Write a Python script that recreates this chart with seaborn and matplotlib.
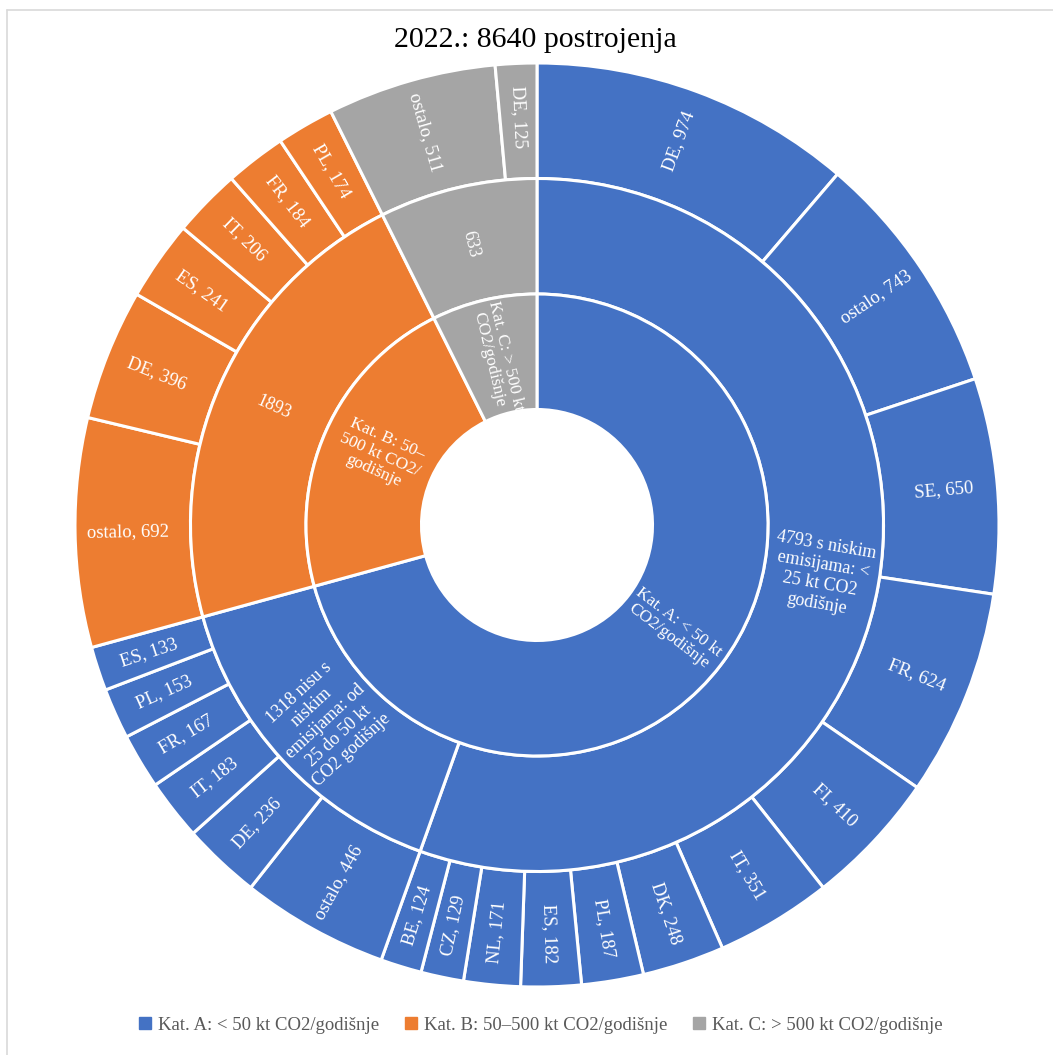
import numpy as np
import pandas as pd
import matplotlib
matplotlib.use("Agg")
import matplotlib.pyplot as plt
import seaborn as sns
from matplotlib.lines import Line2D

# ---------------- data ----------------
title = "2022.: 8640 postrojenja"
categories = ["Kat. A: < 50 kt CO2/godišnje",
              "Kat. B: 50–500 kt CO2/godišnje",
              "Kat. C: > 500 kt CO2/godišnje"]
inner_labels = ["Kat. A: < 50 kt\nCO2/godišnje",
                "Kat. B: 50–\n500 kt CO2/\ngodišnje",
                "Kat. C: > 500 kt\nCO2/godišnje"]
middle_labels = ["4793 s niskim\nemisijama: <\n25 kt CO2\ngodišnje",
                 "1318 nisu s\nniskim\nemisijama: od\n25 do 50 kt\nCO2 godišnje",
                 "1893",
                 "633"]
middle_category = [0, 0, 1, 2]

a_low_countries = ["DE", "ostalo", "SE", "FR", "FI", "IT", "DK", "PL", "ES", "NL", "CZ", "BE"]
a_low_values = [974, 743, 650, 624, 410, 351, 248, 187, 182, 171, 129, 124]
a_high_countries = ["ostalo", "DE", "IT", "FR", "PL", "ES"]
a_high_values = [446, 236, 183, 167, 153, 133]
b_countries = ["ostalo", "DE", "ES", "IT", "FR", "PL"]
b_values = [692, 396, 241, 206, 184, 174]
c_countries = ["ostalo", "DE"]
c_values = [511, 125]

# ---------------- style ----------------
sns.set_theme(style="white")
plt.rcParams['font.family'] = ['Liberation Serif', 'DejaVu Serif']
palette = sns.color_palette(["#4472C4", "#ED7D31", "#A5A5A5"])

groups = [(a_low_countries, a_low_values),
          (a_high_countries, a_high_values),
          (b_countries, b_values),
          (c_countries, c_values)]

outer_vals, outer_labels, outer_cols = [], [], []
middle_vals, middle_cols = [], []
for gi, (names, vals) in enumerate(groups):
    cat = middle_category[gi]
    for n, v in zip(names, vals):
        outer_vals.append(v)
        outer_labels.append(f"{n}, {v}")
        outer_cols.append(palette[cat])
    middle_vals.append(sum(vals))
    middle_cols.append(palette[cat])

df_mid = pd.DataFrame({"cat": middle_category, "val": middle_vals})
inner_vals = df_mid.groupby("cat")["val"].sum().tolist()
inner_cols = [palette[i] for i in range(3)]

# ---------------- figure ----------------
W, H = 1053, 1055
fig = plt.figure(figsize=(W / 100, H / 100), dpi=100)
cx, cy, R = 537, 525, 462
ax = fig.add_axes([(cx - R) / W, (H - cy - R) / H, 2 * R / W, 2 * R / H])

wp = dict(width=0.25, edgecolor="white", linewidth=2.2)
rings = [
    (outer_vals, outer_cols, 1.0, outer_labels, 0.885, 13.5, 1.0),
    (middle_vals, middle_cols, 0.75, middle_labels, 0.625, 13, 1.2),
    (inner_vals, inner_cols, 0.5, inner_labels, 0.372, 12.5, 1.1),
]
for vals, cols, rad, labels, lr, fs, ls in rings:
    wedges, _ = ax.pie(vals, radius=rad, colors=cols, startangle=90,
                       counterclock=False, wedgeprops=wp)
    for w, lab in zip(wedges, labels):
        mid = (w.theta1 + w.theta2) / 2.0
        ang = ((mid + 180) % 360) - 180
        rot = ang
        if rot > 90:
            rot -= 180
        elif rot < -90:
            rot += 180
        x = lr * np.cos(np.deg2rad(mid))
        y = lr * np.sin(np.deg2rad(mid))
        ax.text(x, y, lab, ha="center", va="center", rotation=rot,
                rotation_mode="anchor", color="white", fontsize=fs,
                multialignment="center", linespacing=ls)

ax.set_xlim(-1, 1)
ax.set_ylim(-1, 1)
ax.set_aspect("equal")
ax.axis("off")

fig.text(0.508, 1 - 40 / H, title, ha="center", va="center", fontsize=21.5, color="black")

handles = [Line2D([0], [0], marker="s", linestyle="none", markersize=8,
                  markerfacecolor=palette[i], markeredgecolor=palette[i])
           for i in range(3)]
fig.legend(handles, categories, loc="center", bbox_to_anchor=(0.513, 1 - 1025 / H),
           ncol=3, frameon=False, fontsize=13.5, handlelength=0.8,
           handletextpad=0.3, columnspacing=1.3, labelcolor="#595959")

# light chart border (left and top edges visible)
bc = "#D9D9D9"
fig.add_artist(Line2D([7 / W, 7 / W], [0, 1 - 10 / H], transform=fig.transFigure,
                      color=bc, linewidth=1.2))
fig.add_artist(Line2D([7 / W, 1], [1 - 10 / H, 1 - 10 / H], transform=fig.transFigure,
                      color=bc, linewidth=1.2))

fig.savefig("out.png", dpi=100, facecolor="white")
